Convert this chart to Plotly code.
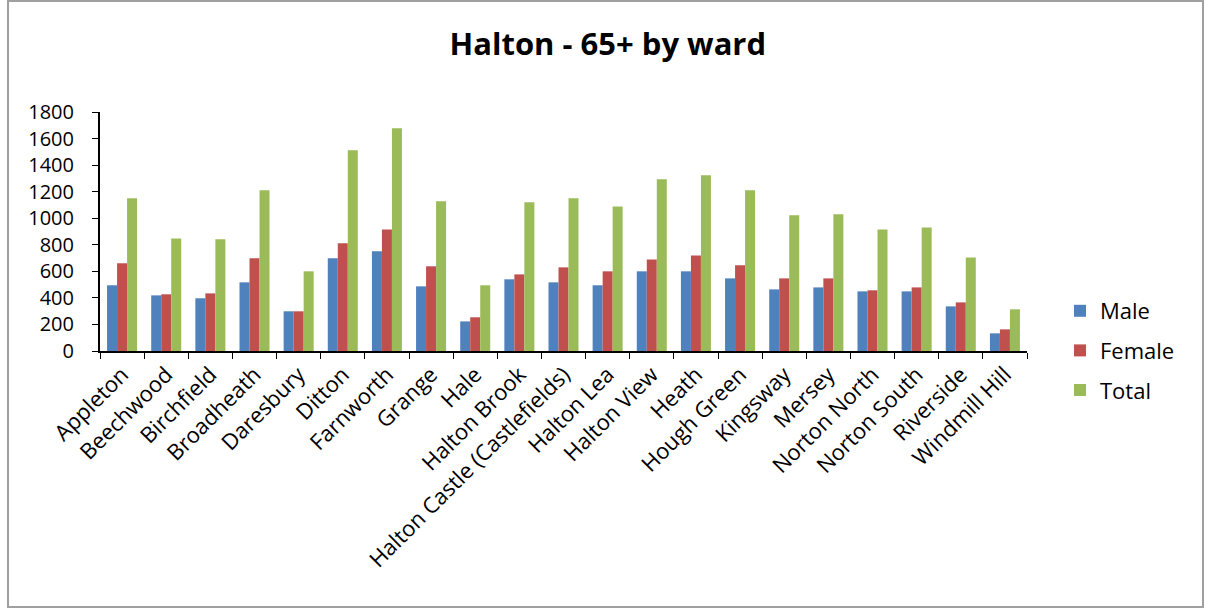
import plotly.graph_objects as go

wards = ["Appleton", "Beechwood", "Birchfield", "Broadheath", "Daresbury", "Ditton",
         "Farnworth", "Grange", "Hale", "Halton Brook", "Halton Castle (Castlefields)",
         "Halton Lea", "Halton View", "Heath", "Hough Green", "Kingsway", "Mersey",
         "Norton North", "Norton South", "Riverside", "Windmill Hill"]
male = [495, 419, 397, 517, 299, 698, 751, 487, 223, 540, 517, 495, 600, 600, 547, 464, 479, 449, 449, 336, 133]
female = [660, 427, 434, 698, 299, 811, 916, 638, 254, 577, 630, 600, 690, 720, 645, 547, 547, 457, 479, 366, 163]
total = [1150, 848, 841, 1210, 600, 1511, 1677, 1127, 495, 1120, 1150, 1089, 1293, 1323, 1210, 1022, 1029, 916, 931, 705, 314]

FONT = "Open Sans"
fig = go.Figure()
for name, vals, col in [("Male", male, "#4F81BD"), ("Female", female, "#C0504D"), ("Total", total, "#9BBB59")]:
    fig.add_trace(go.Bar(x=wards, y=vals, name=name, marker_color=col, marker_line_width=0,
                         legendgroup=name))

L, R, T, B = 100, 179, 112, 261
W, H = 1206, 612
pw = W - L - R
ph = H - T - B
def px_x(p):
    return (p - L) / pw
def px_y(p):
    return (H - B - p) / ph

fig.update_layout(
    width=W, height=H,
    margin=dict(l=L, r=R, t=T, b=B),
    paper_bgcolor="white", plot_bgcolor="white",
    barmode="group", bargap=0.32, bargroupgap=0,
    font=dict(family=FONT, color="black"),
    title=dict(text="<b>Halton - 65+ by ward</b>", x=0.504, xanchor="center",
               y=1 - 44 / H, yanchor="middle", font=dict(size=31, family=FONT)),
    legend=dict(x=px_x(1060), xanchor="left", y=px_y(290), yanchor="top",
                font=dict(size=22, family=FONT), tracegroupgap=8, traceorder="grouped",
                itemwidth=30, bgcolor="rgba(0,0,0,0)"),
    xaxis=dict(type="category", showline=True, linecolor="black", linewidth=2,
               ticks="outside", tickson="boundaries", ticklen=6, tickcolor="black",
               tickangle=-45, tickfont=dict(size=22, family=FONT), showgrid=False),
    yaxis=dict(range=[0, 1800], dtick=200, showline=True, linecolor="black", linewidth=2,
               ticks="outside", ticklen=6, tickcolor="black", showgrid=False,
               ticklabelstandoff=14,
               tickfont=dict(size=20, family=FONT), zeroline=False),
    shapes=[dict(type="rect", xref="paper", yref="paper",
                 x0=px_x(8), x1=px_x(1203), y0=px_y(607), y1=px_y(1),
                 line=dict(color="#A0A0A0", width=2), fillcolor="rgba(0,0,0,0)", layer="below")],
)

fig.write_html("out.html")
